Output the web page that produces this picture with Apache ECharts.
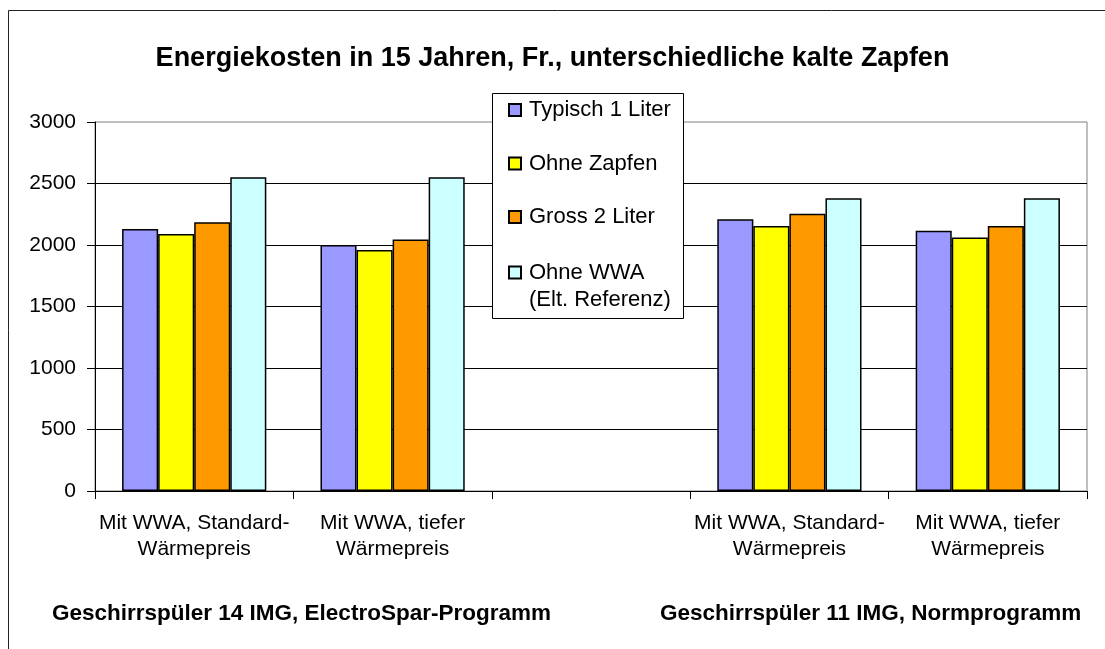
<!DOCTYPE html>
<html>
<head>
<meta charset="utf-8">
<script src="https://cdn.jsdelivr.net/npm/echarts@6/dist/echarts.min.js"></script>
<style>
html,body{margin:0;padding:0;background:#fff;}
#chart{width:1105px;height:649px;}
</style>
</head>
<body>
<div id="chart"></div>
<script>
const chartTitle = 'Energiekosten in 15 Jahren, Fr., unterschiedliche kalte Zapfen';
const categories = ['Mit WWA, Standard-\nWärmepreis', 'Mit WWA, tiefer\nWärmepreis', '', 'Mit WWA, Standard-\nWärmepreis', 'Mit WWA, tiefer\nWärmepreis'];
const seriesNames = ['Typisch 1 Liter', 'Ohne Zapfen', 'Gross 2 Liter', 'Ohne WWA\n(Elt. Referenz)'];
const typisch1Liter = [2130, 2000, null, 2210, 2115];
const ohneZapfen = [2090, 1960, null, 2155, 2060];
const gross2Liter = [2185, 2045, null, 2255, 2155];
const ohneWWA = [2550, 2550, null, 2380, 2380];
const yMin = 0, yMax = 3000, yStep = 500;
const groupLabels = ['Geschirrspüler 14 IMG, ElectroSpar-Programm', 'Geschirrspüler 11 IMG, Normprogramm'];

const colors = ['#9999FF', '#FFFF00', '#FF9900', '#CCFFFF'];
const values = [typisch1Liter, ohneZapfen, gross2Liter, ohneWWA];
const FONT = '"Liberation Sans", Arial, sans-serif';

const chart = echarts.init(document.getElementById('chart'), null, {renderer: 'canvas'});
const option = {
  animation: false,
  backgroundColor: '#fff',
  color: colors,
  title: [
    {text: chartTitle, left: 'center', top: 40,
     textStyle: {fontFamily: FONT, fontSize: 27, fontWeight: 'bold', color: '#000'}},
    {text: groupLabels[0], left: 47, top: 597,
     textStyle: {fontFamily: FONT, fontSize: 22.5, fontWeight: 'bold', color: '#000'}},
    {text: groupLabels[1], left: 655, top: 597,
     textStyle: {fontFamily: FONT, fontSize: 22.5, fontWeight: 'bold', color: '#000'}}
  ],
  graphic: [
    {type: 'rect', left: 6, top: 8, z: 0, silent: true,
     shape: {width: 1200, height: 800}, style: {fill: 'none', stroke: '#222', lineWidth: 1}},
    {type: 'rect', left: 492, top: 93, z: 3, silent: true,
     shape: {width: 191, height: 225}, style: {fill: '#fff', stroke: '#000', lineWidth: 1}}
  ],
  legend: [
    {
      data: seriesNames.slice(0, 3), orient: 'vertical', left: 508, top: 99, padding: 0,
      itemGap: 31.5, itemWidth: 12, itemHeight: 12, icon: 'rect', z: 6,
      textStyle: {fontFamily: FONT, fontSize: 22, lineHeight: 20, color: '#000', padding: [0, 0, 0, 3]}
    },
    {
      data: seriesNames.slice(3), orient: 'vertical', left: 508, top: 234.5, padding: 0,
      itemWidth: 12, itemHeight: 12, icon: 'rect', z: 6,
      formatter: function (name) {
        return '{e| }\n' + name.split('\n').map(function (s) { return '{a|' + s + '}'; }).join('\n');
      },
      textStyle: {fontFamily: FONT, fontSize: 22, color: '#000', padding: [0, 0, 0, 3],
        rich: {
          e: {fontFamily: FONT, fontSize: 22, lineHeight: 27},
          a: {fontFamily: FONT, fontSize: 22, lineHeight: 27, color: '#000'}
        }}
    }
  ],
  grid: {left: 95, right: 18, top: 122, bottom: 158, show: true, borderColor: '#808080', borderWidth: 1, backgroundColor: 'transparent'},
  xAxis: {
    type: 'category', data: categories,
    axisLine: {lineStyle: {color: '#000', width: 1}},
    axisTick: {show: true, length: 8, inside: false, alignWithLabel: false, interval: 0, lineStyle: {color: '#000'}},
    axisLabel: {interval: 0, margin: 19, fontFamily: FONT, fontSize: 21, lineHeight: 26, color: '#000'},
    splitLine: {show: false}
  },
  yAxis: {
    type: 'value', min: yMin, max: yMax, interval: yStep,
    axisLine: {show: true, lineStyle: {color: '#000', width: 1}},
    axisTick: {show: true, length: 8, lineStyle: {color: '#000'}},
    axisLabel: {margin: 19, fontFamily: FONT, fontSize: 21, color: '#000',
      formatter: function (v) { return String(v); }},
    splitLine: {show: true, showMaxLine: false, lineStyle: {color: '#000', width: 1}}
  },
  series: seriesNames.map(function (n, i) {
    return {
      name: n, type: 'bar', data: values[i],
      barGap: 0, barCategoryGap: '27.3%',
      itemStyle: {color: colors[i], borderColor: '#000', borderWidth: 1.5}
    };
  })
};
chart.setOption(option);
</script>
</body>
</html>
